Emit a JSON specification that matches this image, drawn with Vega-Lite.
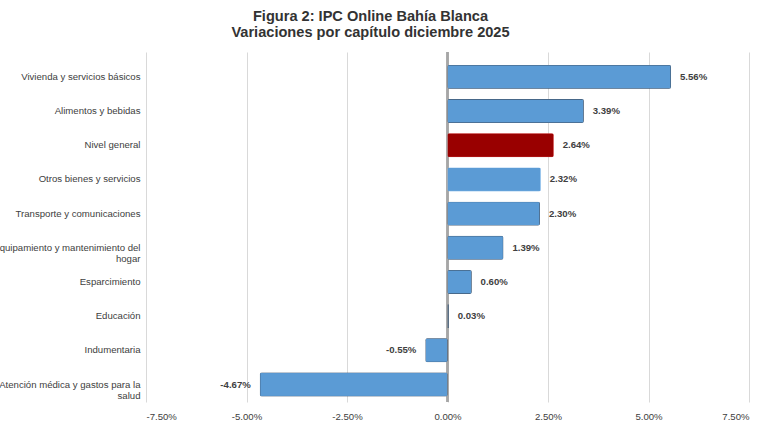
{
  "$schema": "https://vega.github.io/schema/vega-lite/v6.json",
  "autosize": "none",
  "width": 603,
  "height": 350,
  "padding": {"left": 146, "top": 52, "right": 18, "bottom": 43},
  "background": "white",
  "title": {
    "text": ["Figura 2: IPC Online Bahía Blanca", "Variaciones por capítulo diciembre 2025"],
    "font": "Liberation Sans",
    "fontSize": 14.6,
    "fontWeight": "bold",
    "color": "#333333",
    "anchor": "middle",
    "dx": -77,
    "offset": 12,
    "lineHeight": 16
  },
  "data": {
    "values": [
      {"capitulo": "Vivienda y servicios básicos", "valor": 5.56, "grupo": "normal"},
      {"capitulo": "Alimentos y bebidas", "valor": 3.39, "grupo": "normal"},
      {"capitulo": "Nivel general", "valor": 2.64, "grupo": "general"},
      {"capitulo": "Otros bienes y servicios", "valor": 2.32, "grupo": "otros"},
      {"capitulo": "Transporte y comunicaciones", "valor": 2.30, "grupo": "normal"},
      {"capitulo": "Equipamiento y mantenimiento del|hogar", "valor": 1.39, "grupo": "normal"},
      {"capitulo": "Esparcimiento", "valor": 0.60, "grupo": "normal"},
      {"capitulo": "Educación", "valor": 0.03, "grupo": "normal"},
      {"capitulo": "Indumentaria", "valor": -0.55, "grupo": "normal"},
      {"capitulo": "Atención médica y gastos para la|salud", "valor": -4.67, "grupo": "normal"}
    ]
  },
  "transform": [
    {"calculate": "(datum.valor < 0 ? '-' : '') + format(abs(datum.valor), '.2f') + '%'", "as": "etiqueta"}
  ],
  "encoding": {
    "y": {
      "field": "capitulo",
      "type": "nominal",
      "sort": null,
      "title": null,
      "scale": {"paddingInner": 0.3, "paddingOuter": 0.27, "align": 0.7},
      "axis": {
        "labelExpr": "split(datum.value, '|')",
        "labelFont": "Liberation Sans",
        "labelFontSize": 9.6,
        "labelColor": "#404040",
        "labelPadding": 6,
        "labelLineHeight": 11,
        "labelLimit": 300,
        "ticks": false,
        "domain": false,
        "grid": false
      }
    },
    "x": {
      "field": "valor",
      "type": "quantitative",
      "title": null,
      "scale": {"domain": [-7.5, 7.5], "nice": false, "zero": false},
      "axis": {
        "values": [-7.5, -5, -2.5, 0, 2.5, 5, 7.5],
        "labelExpr": "(datum.value < 0 ? '-' : '') + format(abs(datum.value), '.2f') + '%'",
        "labelFont": "Liberation Sans",
        "labelFontSize": 9.6,
        "labelColor": "#404040",
        "labelPadding": 9,
        "ticks": false,
        "domain": false,
        "grid": true,
        "gridColor": "#d9d9d9",
        "gridWidth": 1
      }
    }
  },
  "layer": [
    {
      "mark": {"type": "rule", "color": "#a6a6a6", "strokeWidth": 1.5},
      "encoding": {"x": {"datum": 0}, "y": null}
    },
    {
      "mark": {"type": "bar", "cornerRadius": 2, "strokeWidth": 1},
      "encoding": {
        "color": {
          "field": "grupo",
          "type": "nominal",
          "scale": {"domain": ["normal", "general", "otros"], "range": ["#5b9bd5", "#990000", "#5b9bd5"]},
          "legend": null
        },
        "stroke": {
          "field": "grupo",
          "type": "nominal",
          "scale": {"domain": ["normal", "general", "otros"], "range": ["#3a4656", "#d23a3a", "#9cc8f2"]},
          "legend": null
        }
      }
    },
    {
      "transform": [{"filter": "datum.valor >= 0"}],
      "mark": {"type": "text", "align": "left", "dx": 9, "font": "Liberation Sans", "fontSize": 9.6, "fontWeight": "bold", "color": "#404040"},
      "encoding": {"text": {"field": "etiqueta"}}
    },
    {
      "transform": [{"filter": "datum.valor < 0"}],
      "mark": {"type": "text", "align": "right", "dx": -9, "font": "Liberation Sans", "fontSize": 9.6, "fontWeight": "bold", "color": "#404040"},
      "encoding": {"text": {"field": "etiqueta"}}
    }
  ],
  "config": {"view": {"stroke": null}}
}
